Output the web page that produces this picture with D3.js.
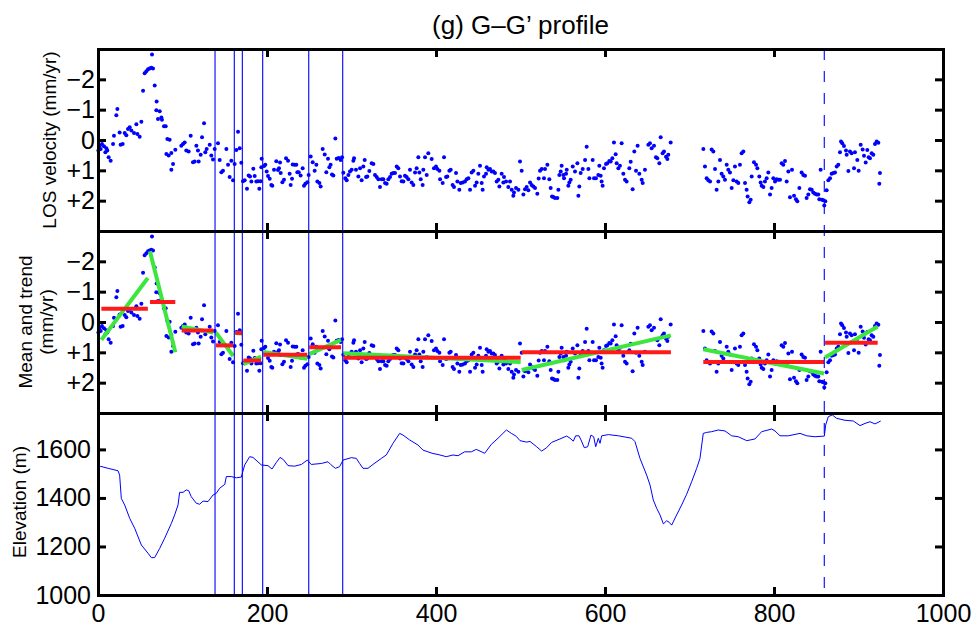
<!DOCTYPE html>
<html>
<head>
<meta charset="utf-8">
<script src="https://cdn.jsdelivr.net/npm/d3@7"></script>
<style>
  body { margin: 0; background: #fff; }
  text { font-family: "Liberation Sans", Arial, Helvetica, sans-serif; }
</style>
</head>
<body>
<svg id="chart" width="974" height="628"></svg>
<script>
// distance along profile (km-ish units), LOS velocity (mm/yr, positive = away)
const losPoints = [
  [0.5,0.35],[2.0,0.19],[3.2,0.30],[4.7,0.13],[7.1,0.21],[8.7,0.40],[9.9,0.27],[11.0,0.35],[12.6,0.57],[15.0,0.68],
  [17.8,0.13],[18.9,-0.14],[21.7,-0.82],[22.9,-1.02],[25.6,-0.25],[26.8,0.16],[29.2,0.13],[31.6,-0.23],[33.5,-0.16],[35.5,-0.36],
  [37.5,-0.42],[39.5,-0.31],[42.6,-0.23],[45.4,-0.52],[46.6,-0.20],[49.3,-0.11],[51.3,-0.60],[53.3,-1.62],[55.2,-2.20],[57.2,-2.27],
  [59.2,-2.33],[61.1,-2.36],[63.1,-2.38],[65.1,-2.36],[63.9,-2.82],[67.1,-1.80],[69.4,-1.27],[69.0,-0.98],[73.0,-0.95],[71.0,-0.69],
  [75.0,-0.74],[75.7,-0.67],[78.1,-0.45],[80.1,-0.45],[82.1,-0.03],[84.8,-0.01],[80.9,0.46],[83.6,0.51],[86.8,0.43],[88.8,0.79],
  [86.8,0.98],[91.5,0.32],[98.6,0.19],[100.6,0.13],[102.6,0.08],[104.5,0.35],[107.3,0.38],[109.7,-0.14],[112.4,0.73],[114.4,0.71],
  [116.4,0.19],[118.3,0.35],[119.1,0.71],[121.5,0.49],[123.1,-0.09],[125.5,-0.55],[127.0,0.40],[128.6,0.30],[132.2,0.16],[134.1,0.51],
  [136.1,0.64],[138.1,0.30],[142.0,0.11],[144.0,0.66],[146.0,1.06],[147.9,1.01],[151.9,0.30],[153.9,0.82],[155.8,1.22],[157.8,0.68],
  [159.8,1.33],[161.7,0.79],[163.7,0.33],[165.7,-0.27],[167.7,0.27],[169.6,0.75],[171.6,1.36],[173.6,1.33],[176.3,1.61],[178.3,1.17],
  [179.9,1.20],[181.5,1.37],[183.8,0.95],[185.4,1.19],[187.4,1.37],[189.4,1.36],[190.9,1.61],[192.5,1.36],[193.7,0.62],[193.3,0.90],
  [196.5,0.86],[198.0,0.82],[199.6,1.04],[201.2,1.19],[203.2,1.28],[205.1,1.48],[206.3,1.51],[208.3,0.98],[211.0,0.70],[213.0,0.99],
  [214.2,0.93],[215.4,0.74],[216.2,1.09],[218.2,1.39],[220.1,1.31],[222.5,0.60],[224.9,0.68],[226.8,1.11],[228.0,1.48],[229.6,1.28],
  [230.4,0.81],[232.8,0.82],[234.7,0.82],[235.9,1.06],[237.5,1.06],[239.8,1.17],[242.2,0.93],[243.8,1.51],[245.4,1.44],[247.7,1.39],
  [249.3,1.15],[251.7,0.54],[254.1,0.73],[256.4,1.01],[258.4,0.82],[259.6,1.37],[262.0,1.42],[263.5,1.53],[265.9,0.30],[268.3,0.48],
  [270.2,1.06],[272.2,0.62],[273.8,0.90],[275.3,0.82],[276.9,1.14],[278.5,1.17],[280.9,-0.05],[282.5,0.62],[284.8,0.59],[287.2,0.66],
  [288.8,0.57],[290.3,1.08],[292.7,1.26],[294.3,1.33],
  [296.3,1.15],[298.2,1.04],[300.2,0.98],[302.2,0.68],[303.0,0.60],[305.3,0.98],[308.1,1.20],[310.1,0.93],[312.0,1.33],[314.0,0.87],
  [315.6,0.66],[317.2,1.22],[318.7,1.20],[321.1,1.02],[323.9,0.77],[325.9,0.79],[327.8,1.15],[329.8,1.22],[331.8,1.29],[333.7,1.55],
  [335.7,1.29],[337.7,1.29],[339.7,1.42],[341.6,1.44],[343.6,1.29],[345.6,1.22],[347.5,1.11],[349.5,1.09],[351.5,1.09],[353.5,0.87],
  [355.4,0.93],[357.4,1.20],[359.4,1.36],[361.4,1.37],[363.3,1.18],[365.3,1.22],[367.3,1.29],[369.2,0.98],[371.2,1.40],[373.2,1.48],
  [375.2,1.07],[377.1,0.93],[379.1,0.57],[380.3,1.07],[381.9,1.29],[384.2,1.48],[385.0,0.98],[387.0,0.57],[389.0,1.15],[390.9,0.44],
  [394.9,0.63],[397.6,0.93],[400.0,0.87],[401.6,0.96],[404.0,1.01],[404.8,1.29],[407.9,1.42],[409.5,0.57],[411.9,1.22],[413.4,1.20],
  [415.8,1.01],[417.4,0.98],[419.7,1.48],[421.3,1.55],[423.7,1.09],[425.3,1.37],[427.6,1.64],[429.2,1.42],[431.6,1.40],[434.3,1.37],
  [436.3,1.29],[438.3,1.26],[440.3,1.64],[442.2,1.07],[444.2,1.01],[446.2,1.51],[448.1,1.40],[450.1,1.11],[452.1,0.85],[454.1,1.42],
  [455.2,1.64],[456.8,1.20],[459.2,1.11],[460.0,0.90],[462.0,0.98],[463.9,0.96],[465.9,1.04],[467.9,1.04],[469.8,1.09],[471.8,1.37],
  [473.8,1.31],[475.0,1.53],[477.7,1.11],[479.7,1.40],[480.5,1.22],[482.9,1.37],[485.6,1.55],[487.6,1.37],[489.6,1.64],[491.5,1.84],
  [492.3,1.73],[494.7,1.58],[497.5,1.64],[499.4,0.71],[501.4,1.01],[503.4,1.80],[505.3,1.62],[507.3,1.55],[509.3,1.66],[511.3,1.40],
  [513.2,1.48],[515.2,1.53],[517.2,1.58],[519.9,1.77],[521.5,1.27],[523.1,1.01],[525.1,0.96],[527.8,1.26],[529.0,0.96],[531.8,0.82],
  [534.1,1.29],[535.7,1.58],[537.3,1.86],[538.9,1.88],[540.8,1.91],[543.6,1.91],[544.8,1.64],[546.0,1.15],[547.6,1.04],[548.7,0.85],
  [550.7,1.15],[551.5,1.26],[553.9,1.11],[554.7,0.98],[556.6,1.51],[557.8,1.40],[559.4,1.31],[561.8,0.87],[564.5,1.04],[567.3,0.77],
  [568.5,1.84],[569.6,1.53],[571.2,1.09],[573.6,0.96],[576.4,0.66],[578.3,0.22],[580.3,0.96],[581.5,1.26],
  [585.4,0.66],[587.0,1.26],[589.3,1.26],[592.1,1.15],[593.3,0.85],[594.9,1.18],[596.0,1.37],[597.2,1.51],[598.8,0.93],[601.2,0.79],
  [602.7,0.77],[605.1,0.69],[606.7,0.71],[608.7,0.60],[610.6,0.08],[612.6,0.47],[613.8,0.77],[615.8,0.93],[617.7,0.85],[619.7,0.11],
  [621.7,1.11],[623.7,1.31],[625.6,1.37],[628.8,0.93],[630.4,0.72],[632.7,1.62],[634.7,0.38],[636.7,1.01],[638.6,0.19],[640.6,1.11],
  [643.4,1.31],[644.6,1.42],[647.3,0.98],[651.3,0.16],[653.2,0.11],[655.2,0.27],[658.0,0.19],[660.3,0.57],[661.9,0.60],[664.3,0.77],
  [665.9,-0.09],[668.2,0.44],[669.8,0.38],[672.2,0.55],[673.8,0.63],[674.9,0.49],[677.7,0.08],
  [716.4,0.30],[718.3,0.87],[720.3,1.26],[722.3,1.33],[724.3,1.37],[726.2,0.31],[728.2,0.38],[730.2,0.96],[732.1,1.64],[734.1,1.37],
  [736.1,0.66],[738.0,1.11],[740.0,1.20],[742.0,1.31],[744.0,0.82],[745.9,0.98],[747.9,1.07],[749.9,1.58],[751.9,1.33],[753.8,0.87],
  [755.8,1.37],[757.8,1.42],[759.7,0.82],[761.7,0.44],[763.7,0.38],[765.7,1.42],[767.6,1.64],[768.8,1.86],[770.8,2.05],[772.4,1.97],
  [773.6,1.20],[776.3,0.73],[778.7,0.82],[780.3,0.93],[782.6,1.20],[784.2,1.40],[785.4,1.51],[787.4,1.55],[789.3,1.37],[791.3,1.26],
  [793.3,1.07],[795.3,1.80],[797.2,1.58],[799.2,1.26],[801.2,1.37],[803.1,1.29],[805.1,1.31],[807.1,1.31],[809.1,0.77],[811.0,0.82],
  [813.0,0.69],[815.0,1.37],[817.0,1.04],[818.9,1.89],[821.3,0.98],[823.7,1.84],[826.0,1.95],[827.6,2.02],[830.0,1.58],[832.7,1.07],
  [834.7,1.15],[836.7,1.18],[838.6,1.91],[840.6,1.80],[842.6,1.62],[844.6,1.64],[846.5,1.73],[848.5,1.77],[850.5,1.80],[852.4,1.80],
  [853.6,1.95],[855.2,0.98],[856.8,1.97],[858.4,1.99],[859.5,2.16],[860.7,2.02],[862.3,1.66],[864.3,1.33],[866.3,1.26],[868.2,1.11],
  [870.2,1.09],[872.2,1.07],[874.2,0.87],[876.1,0.82],[878.1,0.40],[879.3,0.05],[880.8,0.11],[882.8,0.20],[885.2,0.35],[886.0,0.49],
  [888.0,1.02],[889.9,0.38],[891.9,0.44],[894.7,0.93],[895.8,0.40],[898.6,0.66],[900.2,1.01],[902.6,0.16],[904.9,0.31],[906.5,0.52],
  [908.5,0.74],[910.4,0.33],[912.0,0.57],[913.6,0.60],[915.6,0.44],[917.5,0.49],[919.5,0.13],[921.5,0.05],[923.5,0.09],[925.4,1.09],
  [924.6,1.44]
];

// fitted segments between breaks: mean (red) and linear trend (green)
const segStart   = [4, 61.5, 99, 139.6, 162.5, 172, 195.6, 250, 290.3, 501.4, 716.3, 860.4];
const segEnd     = [59, 91.5, 136.5, 160, 170.4, 193, 247.7, 287.6, 500.2, 678, 859.2, 922.7];
const segMean    = [-0.44, -0.66, 0.28, 0.77, 0.36, 1.27, 1.08, 0.83, 1.18, 1.0, 1.32, 0.68];
const trendStart = [0.59, -2.33, 0.15, 0.35, 0.36, 1.39, 0.99, 1.06, 1.03, 1.58, 0.9, 1.17];
const trendEnd   = [-1.45, 1.0, 0.35, 1.12, 0.38, 1.14, 1.21, 0.59, 1.32, 0.44, 1.7, 0.15];

const breakKm = [138.5, 161.3, 170.8, 194.9, 249.4, 289.6];
const dashedBreakKm = [859.5];

const elevKm = [0,3.2,12,23.7,25.6,27.6,31.6,37.5,43.4,51.3,59.2,63.1,67,73,78.9,86.8,90.7,94.7,96.6,100.6,
  104.5,107.3,110.4,116.4,120.3,124.3,130.2,136.1,140,144,150,151.9,157.8,163.7,169.6,173.6,179.5,183.4,193.3,201.2,
  205.9,211,215.4,219.4,224.9,232.8,240.7,247.7,252.4,264.3,272.2,275.3,280.9,286,290,299.8,305.7,309.6,313.6,319.5,
  325.4,335.3,341.2,349.1,357,361,368.8,378.7,384.6,390.5,396.4,402.4,412.2,420.1,426,433.9,441.8,447.7,457.6,465.5,
  473.4,483.3,489.2,495,499.4,507.3,511.2,519.1,525,530.9,536.9,546.7,554.6,558.6,562.5,565.3,569.2,571.6,575.5,579.5,
  583.4,586.6,589,592.1,594.1,596.1,604,615.8,631.6,635.5,641.4,649.3,653.3,657.2,661.2,665.1,669.1,673,675.8,678.9,
  684.8,690.7,696.6,702.6,708.5,712.4,716.3,720.3,726.2,734.1,742,749.9,757.8,767.7,777.5,785.4,797.3,801.2,807.1,817,
  830.8,838.7,848.6,859.6,861.1,864.3,869,874.1,884,893.9,901.8,907.7,913.6,919.5,926.3];
const elevM = [1525,1530,1522,1512,1494,1398,1371,1316,1275,1206,1172,1154,1154,1192,1234,1295,1330,1371,1423,1423,
  1433,1430,1405,1378,1374,1387,1385,1412,1419,1440,1456,1488,1488,1483,1486,1536,1570,1567,1536,1533,
  1519,1546,1567,1558,1533,1531,1538,1556,1538,1542,1549,1538,1522,1529,1556,1566,1563,1542,1522,1522,
  1538,1563,1577,1625,1666,1659,1639,1618,1597,1590,1583,1579,1570,1577,1574,1590,1590,1600,1584,1621,
  1646,1680,1666,1654,1636,1630,1633,1611,1593,1607,1629,1643,1655,1646,1634,1656,1656,1639,1607,1611,
  1659,1652,1611,1646,1625,1656,1661,1656,1646,1632,1563,1494,1453,1391,1357,1330,1293,1306,1300,1288,
  1330,1371,1415,1467,1522,1563,1666,1670,1673,1680,1676,1656,1652,1636,1643,1673,1684,1676,1656,1656,
  1666,1656,1652,1655,1700,1735,1742,1728,1720,1717,1698,1707,1714,1705,1717];

const xTicks = [0, 200, 400, 600, 800, 1000];
const velTicks = [-2, -1, 0, 1, 2];
const elevTicks = [1000, 1200, 1400, 1600];

const svg = d3.select('#chart');
const left = 98, right = 943;
const panelTops = [49, 231, 413, 595];

const x = d3.scaleLinear().domain([0, 1000]).range([left, right]);
const yVel1 = d3.scaleLinear().domain([-3, 3]).range([panelTops[0], panelTops[1]]);
const yVel2 = d3.scaleLinear().domain([-3, 3]).range([panelTops[1], panelTops[2]]);
const yElev = d3.scaleLinear().domain([1000, 1750]).range([panelTops[3], panelTops[2]]);

const velFmt = v => (v > 0 ? '+' + v : v < 0 ? '\u2212' + Math.abs(v) : '0');

// title
svg.append('text')
  .attr('x', (left + right) / 2)
  .attr('y', 34)
  .attr('text-anchor', 'middle')
  .style('font-size', '26px')
  .text('(g) G\u2013G\u2019 profile');

// scatter in the first two panels
[yVel1, yVel2].forEach(y => {
  svg.append('g')
    .selectAll('circle')
    .data(losPoints)
    .enter()
    .append('circle')
    .attr('cx', d => x(d[0]))
    .attr('cy', d => y(d[1]))
    .attr('r', 2)
    .attr('fill', '#0000ff');
});

// trends (green) then means (red)
const segIdx = d3.range(segStart.length);
svg.append('g')
  .selectAll('line')
  .data(segIdx)
  .enter()
  .append('line')
  .attr('x1', i => x(segStart[i]))
  .attr('x2', i => x(segEnd[i]))
  .attr('y1', i => yVel2(trendStart[i]))
  .attr('y2', i => yVel2(trendEnd[i]))
  .attr('stroke', '#3ce63c')
  .attr('stroke-width', 4);

svg.append('g')
  .selectAll('line')
  .data(segIdx)
  .enter()
  .append('line')
  .attr('x1', i => x(segStart[i]))
  .attr('x2', i => x(segEnd[i]))
  .attr('y1', i => yVel2(segMean[i]))
  .attr('y2', i => yVel2(segMean[i]))
  .attr('stroke', '#ff1a1a')
  .attr('stroke-width', 4);

// elevation profile
svg.append('path')
  .datum(d3.zip(elevKm, elevM))
  .attr('fill', 'none')
  .attr('stroke', '#0000ff')
  .attr('stroke-width', 1)
  .attr('d', d3.line().x(d => x(d[0])).y(d => yElev(d[1])));

// break lines through all panels
svg.append('g')
  .selectAll('line')
  .data(breakKm)
  .enter()
  .append('line')
  .attr('x1', d => x(d))
  .attr('x2', d => x(d))
  .attr('y1', panelTops[0])
  .attr('y2', panelTops[3])
  .attr('stroke', '#0000ff')
  .attr('stroke-width', 1.1);

svg.append('g')
  .selectAll('line')
  .data(dashedBreakKm)
  .enter()
  .append('line')
  .attr('x1', d => x(d))
  .attr('x2', d => x(d))
  .attr('y1', panelTops[0])
  .attr('y2', panelTops[3])
  .attr('stroke', '#0000ff')
  .attr('stroke-width', 1.1)
  .attr('stroke-dasharray', '11,11');

// axes / frames
function styleAxis(g, fontSize) {
  g.select('.domain').attr('stroke', '#000').attr('stroke-width', 3).attr('stroke-linecap', 'square');
  g.selectAll('.tick line').attr('stroke', '#000').attr('stroke-width', 3);
  g.selectAll('.tick text').attr('fill', '#000').style('font-size', fontSize + 'px')
    .style('font-family', '"Liberation Sans", Arial, sans-serif');
}

const panels = [
  { y: yVel1, ticks: velTicks, fmt: velFmt, pad: 3 },
  { y: yVel2, ticks: velTicks, fmt: velFmt, pad: 3 },
  { y: yElev, ticks: elevTicks, fmt: d3.format('d'), pad: 7 },
];

panels.forEach((p, k) => {
  const top = panelTops[k], bottom = panelTops[k + 1];
  svg.append('g').attr('transform', `translate(0,${top})`)
    .call(d3.axisTop(x).tickValues(xTicks).tickSizeInner(-8).tickSizeOuter(0).tickFormat(''))
    .call(g => styleAxis(g, 25));
  svg.append('g').attr('transform', `translate(0,${bottom})`)
    .call(d3.axisBottom(x).tickValues(xTicks).tickSizeInner(-8).tickSizeOuter(0)
      .tickPadding(9).tickFormat(k === 2 ? d3.format('d') : ''))
    .call(g => styleAxis(g, 25));
  svg.append('g').attr('transform', `translate(${left},0)`)
    .call(d3.axisLeft(p.y).tickValues(p.ticks).tickSizeInner(-8).tickSizeOuter(0)
      .tickPadding(p.pad).tickFormat(p.fmt))
    .call(g => styleAxis(g, 25));
  svg.append('g').attr('transform', `translate(${right},0)`)
    .call(d3.axisRight(p.y).tickValues(p.ticks).tickSizeInner(-8).tickSizeOuter(0).tickFormat(''))
    .call(g => styleAxis(g, 25));
});

// y-axis titles
function yTitle(lines, cx, cy) {
  const t = svg.append('text')
    .attr('transform', `translate(${cx},${cy}) rotate(-90)`)
    .attr('text-anchor', 'middle')
    .style('font-size', '19px');
  lines.forEach((s, i) => {
    t.append('tspan').attr('x', 0).attr('dy', i === 0 ? 0 : '1.1em').text(s);
  });
}
yTitle(['LOS velocity (mm/yr)'], 56, 140);
yTitle(['Mean and trend', '(mm/yr)'], 32, 322);
yTitle(['Elevation (m)'], 26, 502);
</script>
</body>
</html>
